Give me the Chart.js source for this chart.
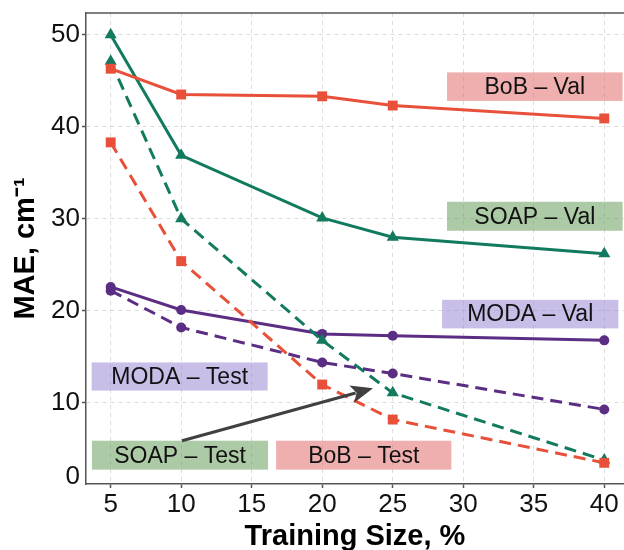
<!DOCTYPE html>
<html>
<head>
<meta charset="utf-8">
<script src="https://cdn.jsdelivr.net/npm/chart.js@4.4.1/dist/chart.umd.min.js"></script>
<style>
  html, body { margin: 0; padding: 0; background: #fff; overflow: hidden; }
  #wrap { width: 624px; height: 550px; position: relative; }
  canvas { display: block; }
</style>
</head>
<body>
<div id="wrap"><canvas id="myChart"></canvas></div>
<script>
// training size (%) on x
const sizes = [5, 10, 20, 25, 40];

// MAE values, cm-1
const bobVal = [46.3, 43.5, 43.3, 42.3, 40.9];
const bobTest = [38.3, 25.4, 12.0, 8.2, 3.5];
const soapVal = [50.0, 36.9, 30.1, 28.0, 26.2];
const soapTest = [47.1, 30.0, 16.8, 11.1, 3.8];
const modaVal = [22.6, 20.1, 17.5, 17.3, 16.8];
const modaTest = [22.2, 18.2, 14.4, 13.2, 9.3];

const xTicks = [5, 10, 15, 20, 25, 30, 35, 40];
// first tick sits a bit above the bottom edge, labelled "0"
const yTicks = [2.0, 10, 20, 30, 40, 50];
const yTickLabels = ['0', '10', '20', '30', '40', '50'];

const RED = '#e8503a';
const GREEN = '#127a5e';
const PURPLE = '#5b2d83';

// text boxes, given in data units
const labelBoxes = [
  { text: 'BoB \u2013 Val', x0: 28.85, x1: 41.3, y0: 42.8, y1: 45.9, fill: 'rgba(228,110,110,0.55)' },
  { text: 'SOAP \u2013 Val', x0: 28.85, x1: 41.3, y0: 28.7, y1: 31.85, fill: 'rgba(90,150,75,0.5)' },
  { text: 'MODA \u2013 Val', x0: 28.5, x1: 41.0, y0: 18.1, y1: 21.2, fill: 'rgba(145,125,210,0.5)' },
  { text: 'MODA \u2013 Test', x0: 3.65, x1: 16.13, y0: 11.35, y1: 14.4, fill: 'rgba(145,125,210,0.5)' },
  { text: 'SOAP \u2013 Test', x0: 3.67, x1: 16.16, y0: 2.76, y1: 5.9, fill: 'rgba(90,150,75,0.5)' },
  { text: 'BoB \u2013 Test', x0: 16.73, x1: 29.16, y0: 2.76, y1: 5.9, fill: 'rgba(228,110,110,0.55)' }
];
const arrow = { x0: 10.06, y0: 5.9, x1: 23.6, y1: 11.6 };

function pts(values) {
  return sizes.map((s, i) => ({ x: s, y: values[i] }));
}

function series(label, values, color, style, dashed) {
  return {
    label: label,
    data: pts(values),
    borderColor: color,
    backgroundColor: color,
    borderWidth: 3,
    borderDash: dashed ? [12, 7] : [],
    pointStyle: style,
    pointRadius: style === 'circle' ? 5 : 7,
    pointBorderWidth: 0,
    tension: 0,
    fill: false
  };
}

const annotations = {
  id: 'annotations',
  beforeDatasetsDraw(chart) {
    const { ctx, scales: { x, y } } = chart;
    ctx.save();
    labelBoxes.forEach(b => {
      const left = x.getPixelForValue(b.x0);
      const right = x.getPixelForValue(b.x1);
      const top = y.getPixelForValue(b.y1);
      const bottom = y.getPixelForValue(b.y0);
      ctx.fillStyle = b.fill;
      ctx.fillRect(left, top, right - left, bottom - top);
      ctx.fillStyle = '#111';
      ctx.font = '23px "Liberation Sans", Arial, sans-serif';
      ctx.textAlign = 'center';
      ctx.textBaseline = 'middle';
      ctx.fillText(b.text, (left + right) / 2, (top + bottom) / 2 + 1);
    });
    ctx.restore();
  },
  afterDatasetsDraw(chart) {
    const { ctx, chartArea, scales: { x, y } } = chart;
    ctx.save();
    // top frame line
    ctx.strokeStyle = '#555';
    ctx.lineWidth = 1.5;
    ctx.beginPath();
    ctx.moveTo(chartArea.left, chartArea.top);
    ctx.lineTo(chartArea.right, chartArea.top);
    ctx.stroke();

    // arrow
    const ax0 = x.getPixelForValue(arrow.x0), ay0 = y.getPixelForValue(arrow.y0);
    const ax1 = x.getPixelForValue(arrow.x1), ay1 = y.getPixelForValue(arrow.y1);
    const ang = Math.atan2(ay1 - ay0, ax1 - ax0);
    const head = 22, half = 9;
    const bx = ax1 - head * Math.cos(ang), by = ay1 - head * Math.sin(ang);
    ctx.strokeStyle = '#404040';
    ctx.fillStyle = '#404040';
    ctx.lineWidth = 3;
    ctx.beginPath();
    ctx.moveTo(ax0, ay0);
    ctx.lineTo(bx + 4 * Math.cos(ang), by + 4 * Math.sin(ang));
    ctx.stroke();
    ctx.beginPath();
    ctx.moveTo(ax1, ay1);
    ctx.lineTo(bx - half * Math.sin(ang), by + half * Math.cos(ang));
    ctx.lineTo(bx + 5 * Math.cos(ang), by + 5 * Math.sin(ang));
    ctx.lineTo(bx + half * Math.sin(ang), by - half * Math.cos(ang));
    ctx.closePath();
    ctx.fill();
    ctx.restore();
  }
};

new Chart(document.getElementById('myChart'), {
  type: 'line',
  data: {
    datasets: [
      series('BoB - Val', bobVal, RED, 'rect', false),
      series('BoB - Test', bobTest, RED, 'rect', true),
      series('SOAP - Val', soapVal, GREEN, 'triangle', false),
      series('SOAP - Test', soapTest, GREEN, 'triangle', true),
      series('MODA - Val', modaVal, PURPLE, 'circle', false),
      series('MODA - Test', modaTest, PURPLE, 'circle', true)
    ]
  },
  options: {
    responsive: true,
    maintainAspectRatio: false,
    animation: false,
    layout: { autoPadding: false, padding: { top: 13, right: 0, left: 0, bottom: 0 } },
    plugins: {
      legend: { display: false },
      tooltip: { enabled: false }
    },
    scales: {
      x: {
        type: 'linear',
        min: 3.25,
        max: 41.4,
        afterBuildTicks: s => { s.ticks = xTicks.map(v => ({ value: v })); },
        afterFit: s => { s.height = 66; s.paddingLeft = 0; s.paddingRight = 0; },
        ticks: {
          color: '#111',
          padding: 1,
          maxRotation: 0,
          font: { family: '"Liberation Sans", Arial, sans-serif', size: 26 }
        },
        grid: {
          color: '#dcdcdc',
          lineWidth: 1,
          tickLength: 4,
          tickColor: '#555',
          tickWidth: 1.5
        },
        border: { display: true, color: '#555', width: 1.5, dash: [4, 4] },
        title: {
          display: true,
          text: 'Training Size, %',
          color: '#000',
          padding: { top: 0, bottom: 0 },
          font: { family: '"Liberation Sans", Arial, sans-serif', size: 29, weight: 'bold', lineHeight: 0.9 }
        }
      },
      y: {
        min: 1.2,
        max: 52.35,
        afterBuildTicks: s => { s.ticks = yTicks.map(v => ({ value: v })); },
        afterFit: s => { s.width = 86; s.paddingTop = 0; s.paddingBottom = 0; },
        ticks: {
          color: '#111',
          padding: 2,
          callback: (v, i) => yTickLabels[i],
          font: { family: '"Liberation Sans", Arial, sans-serif', size: 26 }
        },
        grid: {
          color: ctx => ctx.index === 0 ? 'rgba(0,0,0,0)' : '#dcdcdc',
          tickColor: ctx => ctx.index === 0 ? 'rgba(0,0,0,0)' : '#555',
          lineWidth: 1,
          tickLength: 4,
          tickWidth: 1.5
        },
        border: { display: true, color: '#555', width: 1.5, dash: [4, 4] },
        title: {
          display: true,
          text: 'MAE, cm\u207B\u00B9',
          color: '#000',
          padding: { top: 9, bottom: 0 },
          font: { family: '"Liberation Sans", Arial, sans-serif', size: 29, weight: 'bold' }
        }
      }
    }
  },
  plugins: [annotations]
});
</script>
</body>
</html>
